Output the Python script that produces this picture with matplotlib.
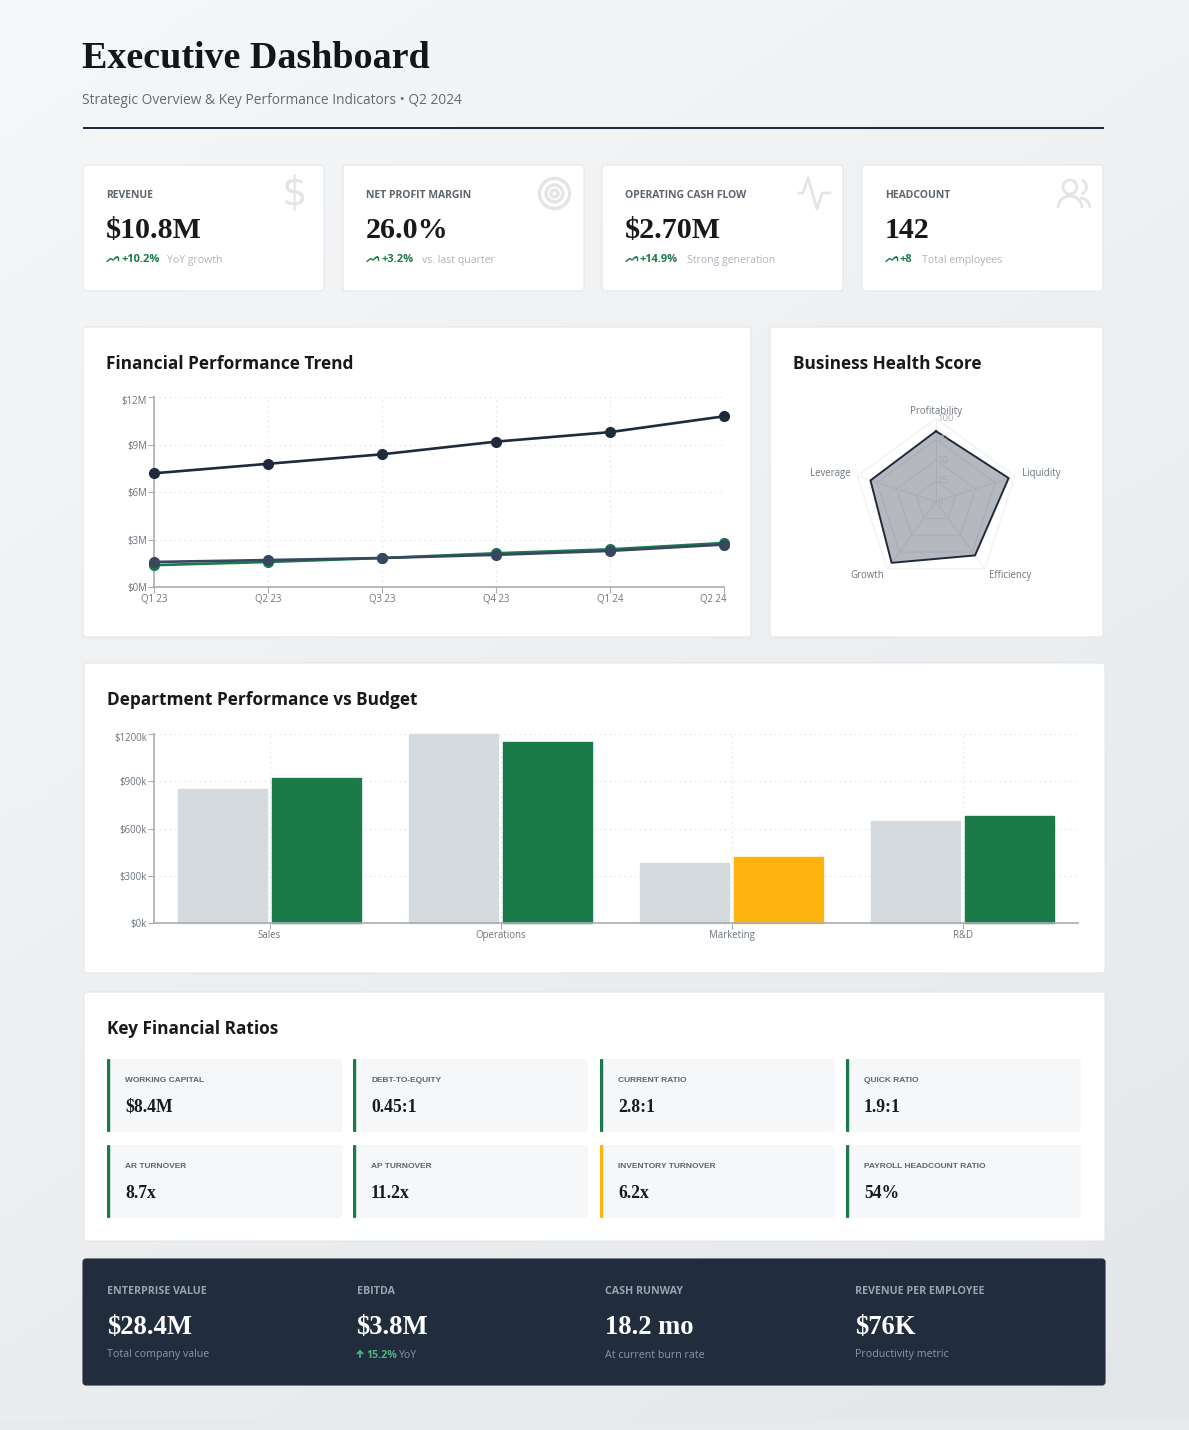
import numpy as np
import matplotlib
matplotlib.use("Agg")
import matplotlib.pyplot as plt
from matplotlib.patches import FancyBboxPatch, Circle, Arc, Rectangle
from matplotlib.transforms import ScaledTranslation

W, H = 1189, 1430

# --- data ---
quarters = ["Q1 23", "Q2 23", "Q3 23", "Q4 23", "Q1 24", "Q2 24"]
revenue = [7.2, 7.8, 8.4, 9.2, 9.8, 10.8]
cash_flow = [1.4, 1.6, 1.85, 2.15, 2.4, 2.8]
net_profit = [1.6, 1.72, 1.85, 2.05, 2.3, 2.7]
trend_ticks = [0, 3, 6, 9, 12]

health_labels = ["Profitability", "Liquidity", "Efficiency", "Growth", "Leverage"]
health_values = [85, 92, 80, 91, 83]
health_ticks = [0, 25, 50, 75, 100]

departments = ["Sales", "Operations", "Marketing", "R&D"]
budget = [850, 1200, 380, 650]
actual = [920, 1150, 420, 680]
dept_ticks = [0, 300, 600, 900, 1200]

kpi_labels = ["REVENUE", "NET PROFIT MARGIN", "OPERATING CASH FLOW", "HEADCOUNT"]
kpi_values = ["$10.8M", "26.0%", "$2.70M", "142"]
kpi_changes = ["+10.2%", "+3.2%", "+14.9%", "+8"]
kpi_notes = ["YoY growth", "vs. last quarter", "Strong generation", "Total employees"]

ratio_labels = ["WORKING CAPITAL", "DEBT-TO-EQUITY", "CURRENT RATIO", "QUICK RATIO",
                "AR TURNOVER", "AP TURNOVER", "INVENTORY TURNOVER", "PAYROLL HEADCOUNT RATIO"]
ratio_values = ["$8.4M", "0.45:1", "2.8:1", "1.9:1", "8.7x", "11.2x", "6.2x", "54%"]
ratio_warn = [False, False, False, False, False, False, True, False]

footer_labels = ["ENTERPRISE VALUE", "EBITDA", "CASH RUNWAY", "REVENUE PER EMPLOYEE"]
footer_values = ["$28.4M", "$3.8M", "18.2 mo", "$76K"]
footer_notes = ["Total company value", "YoY", "At current burn rate", "Productivity metric"]

NAVY = "#1f2a3c"
SLATE = "#36475f"
GREEN = "#1a7a4a"
GOLD = "#ffb30f"
INK = "#17191c"
MUTED = "#6c757d"
LIGHT = "#adb5bd"
SANS = "Open Sans"
SERIF = "Liberation Serif"

fig = plt.figure(figsize=(W / 100, H / 100), dpi=100)

page = fig.add_axes([0, 0, 1, 1])
page.set_xlim(0, W)
page.set_ylim(H, 0)
page.axis("off")

# page background, soft diagonal
yy, xx = np.mgrid[0:1:200j, 0:1:200j]
t = 0.35 * xx + 0.65 * yy
c0 = np.array([0xf6, 0xf7, 0xf8]) / 255
c1 = np.array([0xe4, 0xe7, 0xea]) / 255
grad = c0[None, None, :] + (c1 - c0)[None, None, :] * t[:, :, None]
page.imshow(grad, extent=[0, W, H, 0], aspect="auto", zorder=0)
page.set_xlim(0, W)
page.set_ylim(H, 0)
page.add_patch(Rectangle((0, 1420), W, 10, fc="#e7eaea", ec="none", zorder=0.5))


def px(size):
    return size * 0.72


def card(l, t, r, b, color="white", edge="#e3e6e9", z=1):
    page.add_patch(FancyBboxPatch((l + 2, t + 2), r - l - 4, b - t - 4,
                                  boxstyle="round,pad=2,rounding_size=3",
                                  fc=color, ec=edge, lw=0.8, zorder=z))


def txt(x, y, s, size, color=INK, family=SANS, weight="normal", ha="left"):
    return page.text(x, y + 1, s, fontsize=px(size), color=color, family=family,
                     weight=weight, ha=ha, va="center", zorder=5)


def trend_arrow(x, y, color=GREEN):
    page.plot([x, x + 3.5, x + 6, x + 10.5], [y + 2.5, y - 0.5, y + 1, y - 2.5],
              color=color, lw=1.0, zorder=5, solid_capstyle="round")
    page.plot([x + 7.5, x + 10.5, x + 10.5], [y - 2.5, y - 2.5, y + 0.5],
              color=color, lw=1.0, zorder=5)


def px_axes(l, t, r, b):
    ax = fig.add_axes([l / W, 1 - b / H, (r - l) / W, (b - t) / H])
    ax.patch.set_alpha(0)
    return ax


def shift(label, dx, dy):
    label.set_transform(label.get_transform() + ScaledTranslation(dx / 100, -dy / 100, fig.dpi_scale_trans))


# --- header ---
txt(82, 58, "Executive Dashboard", 38, color="#141517", family=SERIF, weight="bold")
txt(82, 100, "Strategic Overview & Key Performance Indicators • Q2 2024", 13.7, color="#626b73")
page.add_patch(Rectangle((83, 127), 1021, 2, fc=NAVY, ec="none", zorder=2))

# --- KPI cards ---
kpi_left = [83, 343, 602, 862]
for i in range(4):
    x = kpi_left[i]
    card(x, 165, x + 241, 291)
    txt(x + 23, 195, kpi_labels[i], 10.4, color="#5c656e", weight="bold")
    txt(x + 23, 229, kpi_values[i], 30, family=SERIF, weight="bold")
    trend_arrow(x + 24, 259)
    txt(x + 38, 259, kpi_changes[i], 11, color=GREEN, weight="bold")
    note_x = [167, 422, 687, 922][i]
    txt(note_x, 259, kpi_notes[i], 10.5, color=LIGHT)

# icons in the card corners
ICON = "#e2e4e6"
txt(294, 193, "$", 40, color=ICON, family="DejaVu Sans", ha="center")
for r in [15, 8.5, 3.5]:
    page.add_patch(Circle((554.5, 193.5), r, fc="none", ec=ICON, lw=2.4, zorder=4))
page.plot([799, 803, 808, 817, 822, 830], [193, 193, 178, 209, 193, 193], color=ICON, lw=2.0, zorder=4)
page.add_patch(Circle((1070, 187), 7, fc="none", ec=ICON, lw=2.0, zorder=4))
page.add_patch(Arc((1070, 208), 24, 24, theta1=180, theta2=360, ec=ICON, lw=2.0, zorder=4))
page.add_patch(Arc((1079, 187), 15, 15, theta1=-70, theta2=70, ec=ICON, lw=2.0, zorder=4))
page.add_patch(Arc((1080, 208), 20, 20, theta1=270, theta2=360, ec=ICON, lw=2.0, zorder=4))

# --- panels ---
card(83, 327, 751, 637)
card(770, 327, 1103, 637)
card(84, 663, 1105, 973)
card(84, 992, 1105, 1241)
txt(106, 363, "Financial Performance Trend", 17.3, weight="bold")
txt(793, 363, "Business Health Score", 17.3, weight="bold")
txt(107, 699, "Department Performance vs Budget", 17.3, weight="bold")
txt(107, 1028, "Key Financial Ratios", 17.3, weight="bold")


def style_axes(ax):
    for s in ["top", "right"]:
        ax.spines[s].set_visible(False)
    for s in ["left", "bottom"]:
        ax.spines[s].set_color("#a9adb2")
        ax.spines[s].set_linewidth(1.2)
    ax.grid(True, color="#e4e6e8", lw=0.8, ls=(0, (1.5, 3)))
    ax.set_axisbelow(True)
    ax.tick_params(length=4, width=0.8, color="#a9adb2", labelsize=px(9.7),
                   labelcolor=MUTED, pad=1)
    for lab in ax.get_xticklabels() + ax.get_yticklabels():
        lab.set_family(SANS)


# --- trend line chart ---
ax = px_axes(154, 397.3, 724, 587.3)
x_pos = np.arange(len(quarters))
ax.plot(x_pos, cash_flow, color=GREEN, lw=1.9, marker="o", ms=7, clip_on=False, zorder=3)
ax.plot(x_pos, net_profit, color=SLATE, lw=1.9, marker="o", ms=7, clip_on=False, zorder=4)
ax.plot(x_pos, revenue, color=NAVY, lw=1.9, marker="o", ms=7, clip_on=False, zorder=4)
ax.set_xlim(0, len(quarters) - 1)
ax.set_ylim(0, 12)
ax.set_xticks(x_pos)
ax.set_xticklabels(quarters)
ax.set_yticks(trend_ticks)
ax.set_yticklabels(["$%dM" % v for v in trend_ticks])
style_axes(ax)
last = ax.get_xticklabels()[-1]
last.set_ha("right")
shift(last, 3, 0)
shift(ax.get_yticklabels()[-1], 0, 3)

# --- radar ---
rad = fig.add_axes([(936 - 83) / W, 1 - (501.7 + 83) / H, 166 / W, 166 / H], projection="polar")
rad.patch.set_alpha(0)
rad.set_theta_zero_location("N")
rad.set_theta_direction(-1)
rad.set_ylim(0, 100)
rad.axis("off")
angles = np.linspace(0, 2 * np.pi, len(health_labels), endpoint=False)
closed = np.append(angles, angles[0])
for level in health_ticks[1:]:
    rad.plot(closed, [level] * len(closed), color="#eceef0", lw=0.7, zorder=1)
for a in angles:
    rad.plot([a, a], [0, 100], color="#eceef0", lw=0.7, zorder=1)
vals = np.array(health_values + health_values[:1])
rad.fill(closed, vals, color=NAVY, alpha=0.33, lw=0, zorder=2)
rad.plot(closed, vals, color=NAVY, lw=1.4, zorder=3)
for level in health_ticks:
    rad.annotate(str(level), (0, level), xytext=(1, 0), textcoords="offset points",
                 fontsize=px(9.5), color="#a6abb1", family=SANS, ha="left", va="center", zorder=4)
label_ha = ["center", "left", "left", "right", "right"]
label_off = [(0, 5), (5, 1.5), (3, -5), (-2.4, -5), (-4.5, 1.5)]
for a, name, ha, off in zip(angles, health_labels, label_ha, label_off):
    rad.annotate(name, (a, 100), xytext=off, textcoords="offset points", fontsize=px(9.7),
                 color=MUTED, family=SANS, ha=ha, va="center", annotation_clip=False)

# --- department bars ---
bx = px_axes(154, 734, 1078, 923.3)
pos = np.arange(len(departments))
bar_w = 0.384
actual_colors = [GREEN, GREEN, GOLD, GREEN]
b1 = bx.bar(pos - 0.202, budget, bar_w, color="#d5dadf", edgecolor="#d5dadf", lw=1, zorder=2, clip_on=False)
b2 = bx.bar(pos + 0.202, actual, bar_w, color=actual_colors, edgecolor=actual_colors, lw=1, zorder=2, clip_on=False)
for p in list(b1) + list(b2):
    p.set_joinstyle("round")
bx.set_xlim(-0.5, len(departments) - 0.5)
bx.set_ylim(0, 1200)
bx.set_xticks(pos)
bx.set_xticklabels(departments)
bx.set_yticks(dept_ticks)
bx.set_yticklabels(["$%dk" % v for v in dept_ticks])
style_axes(bx)
shift(bx.get_yticklabels()[-1], 0, 3)
bx.axvline(len(departments) - 0.5, color="#e4e6e8", lw=0.8, ls=(0, (1.5, 3)), zorder=1)

# --- ratio grid ---
cell_left = [107, 353, 600, 846]
cell_top = [1059, 1145]
for i in range(8):
    x = cell_left[i % 4]
    y = cell_top[i // 4]
    card(x, y, x + 235, y + 73, color="#f5f7f8", edge="none")
    bar_c = GOLD if ratio_warn[i] else GREEN
    page.add_patch(FancyBboxPatch((x + 0.5, y + 0.5), 2.2, 72, boxstyle="round,pad=0.5,rounding_size=1",
                                  fc=bar_c, ec="none", zorder=3))
    txt(x + 18, y + 20, ratio_labels[i], 8.4, color="#5c656e", family="Liberation Sans", weight="bold")
    txt(x + 18, y + 47, ratio_values[i], 17.6, family=SERIF, weight="bold")

# --- dark footer ---
card(83, 1259, 1105, 1385, color="#212c3d", edge="#212c3d")
foot_x = [107, 356.5, 605, 855]
for i in range(4):
    x = foot_x[i]
    txt(x, 1290.5, footer_labels[i], 10.6, color="#9aa4b0", weight="bold")
    txt(x, 1326, footer_values[i], 26.6, color="white", family=SERIF, weight="bold")
    if i == 1:
        page.plot([x + 3.5, x + 3.5], [1357, 1351], color="#4fb583", lw=1.2, zorder=5)
        page.plot([x + 1, x + 3.5, x + 6], [1353.5, 1351, 1353.5], color="#4fb583", lw=1.2, zorder=5)
        txt(x + 10, 1354, "15.2%", 10.6, color="#4fb583", weight="bold")
        txt(x + 42, 1354, footer_notes[i], 10.4, color="#8d97a4")
    else:
        txt(x, 1354, footer_notes[i], 10.6, color="#8d97a4")

fig.savefig("out.png", dpi=100)
